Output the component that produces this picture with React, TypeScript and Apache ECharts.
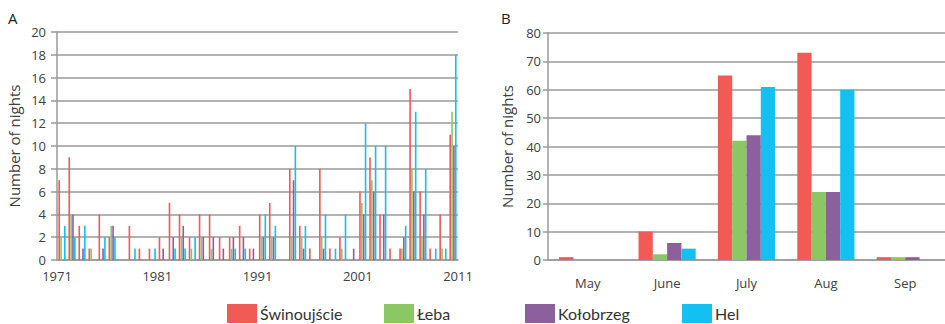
import React, { useEffect, useRef } from "react";
import * as echarts from "echarts";

const years = [
  "1971","1972","1973","1974","1975","1976","1977","1978","1979","1980",
  "1981","1982","1983","1984","1985","1986","1987","1988","1989","1990",
  "1991","1992","1993","1994","1995","1996","1997","1998","1999","2000",
  "2001","2002","2003","2004","2005","2006","2007","2008","2009","2010",
];
const yearTickLabels = ["1971", "1981", "1991", "2001", "2011"];
const seriesNames = ["Świnoujście", "Łeba", "Kołobrzeg", "Hel"];
const colors = ["#F15A55", "#8BC864", "#8C5F9D", "#14C0F1"];

const swinoujscieA = [7,9,3,1,4,2,0,3,1,1, 2,5,4,2,4,4,2,2,3,1, 4,5,0,8,3,1,8,1,2,0, 6,9,4,1,1,15,6,1,4,11];
const lebaA = [2,4,0,1,0,3,0,0,0,0, 0,0,2,1,2,1,0,1,0,0, 2,2,0,2,2,0,2,0,1,0, 5,7,0,0,1,8,2,0,1,13];
const kolobrzegA = [0,4,1,0,1,3,0,0,0,0, 1,2,3,0,2,2,1,2,2,1, 2,2,0,7,1,0,1,0,0,1, 4,6,4,0,2,6,4,0,0,10];
const helA = [3,2,3,0,2,2,0,1,0,1, 0,1,1,2,0,0,0,1,1,0, 4,3,0,10,3,0,4,1,4,0, 12,10,10,0,3,13,8,1,1,18];

const months = ["May", "June", "July", "Aug", "Sep"];
const swinoujscieB = [1, 10, 65, 73, 1];
const lebaB = [0, 2, 42, 24, 1];
const kolobrzegB = [0, 6, 44, 24, 1];
const helB = [0, 4, 61, 60, 0];

const dataA = [swinoujscieA, lebaA, kolobrzegA, helA];
const dataB = [swinoujscieB, lebaB, kolobrzegB, helB];

const FONT = "'Open Sans', sans-serif";
const TXT = "#404040";
const GRID = "#9a9a9a";

export default function App() {
  const ref = useRef<HTMLDivElement>(null);
  useEffect(() => {
    if (!ref.current) return;
    const chart = echarts.init(ref.current, undefined, { renderer: "svg" });
    const legendLefts = [227, 384, 525, 682];
    const option: any = {
      animation: false,
      textStyle: { fontFamily: FONT },
      graphic: [
        { type: "text", left: 8, top: 10, style: { text: "A", fontSize: 15, fontFamily: FONT, fill: "#222" } },
        { type: "text", left: 501, top: 10, style: { text: "B", fontSize: 15, fontFamily: FONT, fill: "#222" } },
      ],
      legend: seriesNames.map((n, i) => ({
        data: [n],
        left: legendLefts[i],
        top: 304,
        icon: "rect",
        itemWidth: 30,
        itemHeight: 19,
        itemGap: 0,
        padding: 0,
        textStyle: { fontSize: 16, color: "#333", fontFamily: "Lato, sans-serif", padding: [0, 0, 0, -2] },
      })),
      grid: [
        { left: 57, top: 32, width: 401, height: 228 },
        { left: 548, top: 33, width: 402, height: 227 },
      ],
      xAxis: [
        {
          type: "category",
          gridIndex: 0,
          data: years,
          boundaryGap: true,
          axisLine: { lineStyle: { color: GRID, width: 1.5 } },
          axisTick: { interval: 0, length: 4, lineStyle: { color: GRID, width: 1.2 } },
          axisLabel: { show: false },
        },
        {
          type: "value",
          gridIndex: 0,
          position: "bottom",
          min: 0,
          max: 40,
          interval: 10,
          axisLine: { show: false },
          axisTick: { show: false },
          splitLine: { show: false },
          axisLabel: {
            margin: 9,
            fontSize: 13,
            color: TXT,
            formatter: (v: number) => yearTickLabels[Math.round(v / 10)],
          },
        },
        {
          type: "category",
          gridIndex: 1,
          data: months,
          axisLine: { lineStyle: { color: GRID, width: 1.5 } },
          axisTick: { length: 8, lineStyle: { color: GRID, width: 1.5 } },
          axisLabel: { margin: 16, fontSize: 13, color: TXT },
        },
      ],
      yAxis: [
        {
          type: "value",
          gridIndex: 0,
          min: 0,
          max: 20,
          interval: 2,
          name: "Number of nights",
          nameLocation: "middle",
          nameGap: 36,
          nameTextStyle: { fontSize: 15, color: TXT },
          axisLine: { show: true, lineStyle: { color: GRID, width: 1.5 } },
          axisTick: { show: true, length: 6, lineStyle: { color: GRID, width: 1.5 } },
          axisLabel: { margin: 11, fontSize: 13, color: TXT },
          splitLine: { lineStyle: { color: GRID, width: 1.5 } },
        },
        {
          type: "value",
          gridIndex: 1,
          min: 0,
          max: 80,
          interval: 10,
          name: "Number of nights",
          nameLocation: "middle",
          nameGap: 34,
          nameTextStyle: { fontSize: 15, color: TXT },
          axisLine: { show: true, lineStyle: { color: GRID, width: 1.5 } },
          axisTick: { show: true, length: 5, lineStyle: { color: GRID, width: 1.5 } },
          axisLabel: { margin: 7, fontSize: 13, color: TXT },
          splitLine: { lineStyle: { color: GRID, width: 1.5 } },
        },
      ],
      series: [
        ...seriesNames.map((n, i) => ({
          name: n,
          type: "bar",
          xAxisIndex: 0,
          yAxisIndex: 0,
          data: dataA[i],
          barCategoryGap: "28%",
          barGap: "15%",
          itemStyle: { color: colors[i] },
        })),
        ...seriesNames.map((n, i) => ({
          name: n,
          type: "bar",
          xAxisIndex: 2,
          yAxisIndex: 1,
          data: dataB[i],
          barCategoryGap: "28%",
          barGap: "0%",
          itemStyle: { color: colors[i] },
        })),
      ],
    };
    chart.setOption(option);
    return () => chart.dispose();
  }, []);
  return (
    <div
      ref={ref}
      style={{ position: "fixed", left: 0, top: 0, width: 945, height: 324, background: "#fff" }}
    />
  );
}
